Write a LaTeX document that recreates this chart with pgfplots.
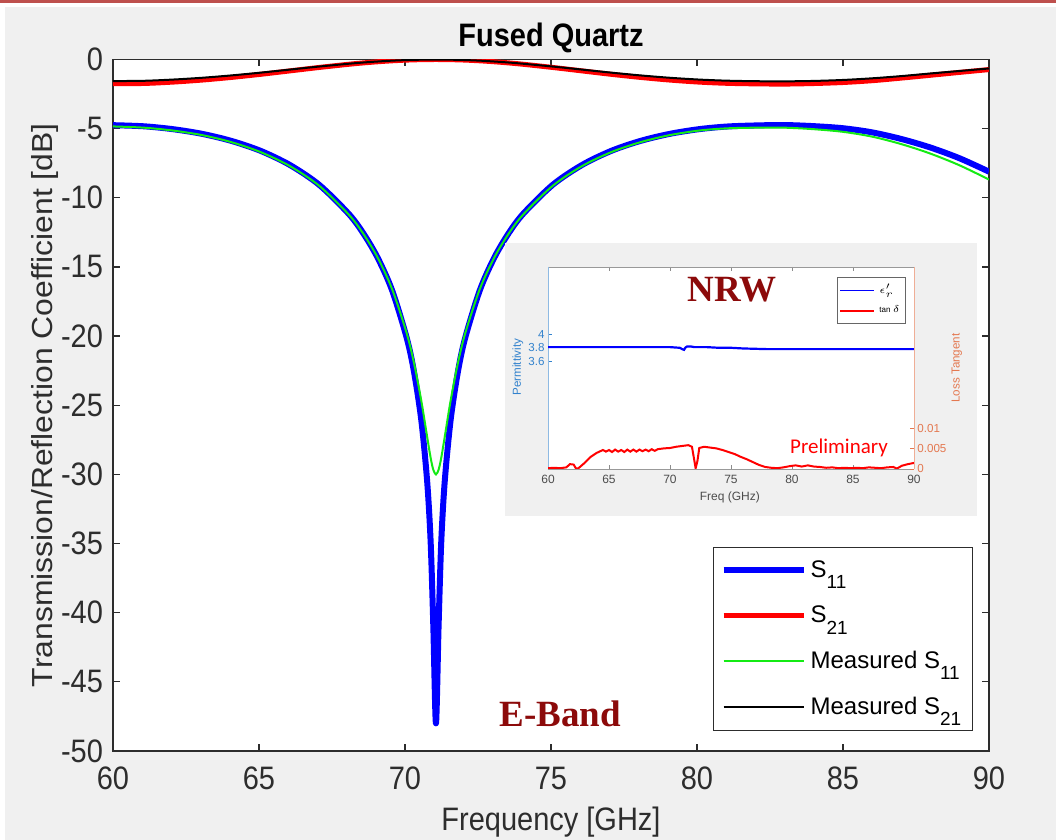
\documentclass[border=0pt]{standalone}
\usepackage{graphicx}
\usepackage{pgfplots}
\pgfplotsset{compat=1.18}
\usepackage{fontspec}
\setmainfont{Liberation Sans}
\newfontfamily\serifbf{Liberation Serif}
\newfontfamily\carlito{Carlito}
\definecolor{figgray}{RGB}{240,240,240}
\definecolor{borderred}{RGB}{190,80,77}
\definecolor{darkred}{RGB}{140,10,10}
\definecolor{mblue}{RGB}{50,130,205}
\definecolor{morange}{RGB}{228,120,80}
\definecolor{sgreen}{RGB}{20,235,20}
\definecolor{axgray}{RGB}{45,45,45}
\newcommand{\vs}[1]{\scalebox{1}[1.12]{#1}}
\newcommand{\sub}[1]{\raisebox{-5.8pt}{\fontsize{9.5}{10}\selectfont #1}}

\begin{document}
\begin{tikzpicture}
\path[use as bounding box] (-56.5pt,-44.5pt) rectangle (471.5pt,375.5pt);
\fill[white] (-56.5pt,-44.5pt) rectangle (471.5pt,375.5pt);
\fill[figgray] (-54pt,-44.5pt) rectangle (471.5pt,372pt);
\fill[borderred] (-56.5pt,374pt) rectangle (471.5pt,375.5pt);

\begin{axis}[
  name=main, at={(0,0)}, anchor=south west,
  width=438pt, height=345.75pt, scale only axis,
  xmin=60, xmax=90, ymin=-50, ymax=0,
  xtick={60,65,...,90}, ytick={-50,-45,...,0},
  tick align=inside, xtick pos=both, ytick pos=both,
  major tick length=3.5pt,
  axis line style={axgray, line width=0.6pt},
  tick style={axgray, line width=0.6pt},
  axis background/.style={fill=white},
  /pgf/number format/assume math mode=true,
  ticklabel style={font=\fontsize{14.5}{16}\selectfont, text=axgray},
  xticklabel={\vs{\pgfmathprintnumber{\tick}}},
  yticklabel={\vs{\pgfmathprintnumber{\tick}}},
  xticklabel style={yshift=-4.5pt},
  yticklabel style={xshift=-1.5pt},
  xlabel={\vs{Frequency [GHz]}},
  xlabel style={font=\fontsize{14.5}{16}\selectfont, text=axgray, at={(axis description cs:0.5,-0.1027)}, anchor=center},
  ylabel={\scalebox{1.1}[1]{Transmission/Reflection Coefficient [dB]}},
  ylabel style={font=\fontsize{14.5}{16}\selectfont, text=axgray, at={(axis description cs:-0.0776,0.5)}, anchor=center},
  legend style={at={(axis description cs:0.685,0.295)}, anchor=north west, draw=axgray, line width=0.6pt, fill=white,
    font=\fontsize{12}{14}\selectfont, row sep=8.7pt, inner xsep=3.5pt, inner ysep=4.5pt},
  legend cell align=left,
  legend image code/.code={\draw[#1] (0pt,0pt) -- (40pt,0pt);},
]
\addplot[blue, line width=3pt, line join=round, smooth, tension=0.5] coordinates {
(60,-4.75) (61.06,-4.83) (62.06,-5.04) (63.06,-5.38) (64.06,-5.89) (65.06,-6.61) (66.06,-7.63)
(67.06,-9.06) (68.06,-11.13) (68.56,-12.53) (69.06,-14.32) (69.56,-16.70) (70.06,-20.14)
(70.31,-22.60) (70.56,-26.11) (70.76,-30.53) (70.88,-34.96) (70.97,-40.98) (71.06,-48.0)
(71.15,-40.98) (71.24,-34.96) (71.36,-30.53) (71.56,-26.11) (71.81,-22.60) (72.06,-20.14)
(72.56,-16.70) (73.06,-14.32) (73.56,-12.53) (74.06,-11.13) (75.06,-9.06) (76.06,-7.63)
(77.06,-6.61) (78.06,-5.89) (79.06,-5.38) (80.06,-5.04) (81,-4.85) (82,-4.77) (83,-4.74)
(84,-4.82) (85,-4.97) (86,-5.27) (87,-5.75) (88,-6.37) (89,-7.15) (90,-8.11)};
\addlegendentry{S\sub{11}}
\addplot[red, line width=2.5pt, line join=round, smooth, tension=0.5] coordinates {
(60,-1.75) (61.06,-1.732) (62.06,-1.632) (63.06,-1.485) (64.06,-1.294) (65.06,-1.070) (66.06,-0.823)
(67.06,-0.576) (68.06,-0.348) (68.56,-0.249) (69.06,-0.164) (69.56,-0.094) (70.06,-0.042)
(70.56,-0.011) (71.06,0) (71.56,-0.011) (72.06,-0.042) (72.56,-0.094) (73.06,-0.164) (73.56,-0.249)
(74.06,-0.348) (75.06,-0.576) (76.06,-0.823) (77.06,-1.070) (78.06,-1.294) (79.06,-1.485)
(80.06,-1.632) (81,-1.72) (82,-1.761) (83,-1.776) (84,-1.737) (85,-1.663) (86,-1.532) (87,-1.343)
(88,-1.139) (89,-0.930) (90,-0.729)};
\addlegendentry{S\sub{21}}
\addplot[sgreen, line width=1pt, smooth, tension=0.5] coordinates {
(60,-4.84) (61.06,-4.93) (62.06,-5.14) (63.06,-5.47) (64.06,-5.98) (65.06,-6.70) (66.06,-7.71)
(67.06,-9.13) (68.06,-11.18) (68.56,-12.56) (69.06,-14.31) (69.56,-16.61) (70.06,-19.81)
(70.31,-21.97) (70.56,-24.70) (70.76,-27.30) (70.88,-28.82) (70.97,-29.67) (71.06,-30.0)
(71.15,-29.67) (71.24,-28.82) (71.36,-27.30) (71.56,-24.70) (71.81,-21.97) (72.06,-19.81)
(72.56,-16.61) (73.06,-14.31) (73.56,-12.56) (74.06,-11.18) (75.06,-9.13) (76.06,-7.71)
(77.06,-6.70) (78.06,-5.98) (79.06,-5.47) (80.06,-5.14) (81,-4.98) (82,-4.93) (83,-4.93)
(84,-5.04) (85,-5.23) (86,-5.58) (87,-6.12) (88,-6.81) (89,-7.66) (90,-8.68)};
\addlegendentry{Measured S\sub{11}}
\addplot[black, line width=1pt, smooth, tension=0.5] coordinates {
(60,-1.56) (61.06,-1.54) (62.06,-1.45) (63.06,-1.32) (64.06,-1.15) (65.06,-0.95) (66.06,-0.73)
(67.06,-0.51) (68.06,-0.31) (68.56,-0.22) (69.06,-0.146) (69.56,-0.084) (70.06,-0.04) (70.56,-0.015)
(71.06,-0.01) (71.56,-0.015) (72.06,-0.04) (72.56,-0.084) (73.06,-0.146) (73.56,-0.22) (74.06,-0.31)
(75.06,-0.51) (76.06,-0.73) (77.06,-0.95) (78.06,-1.15) (79.06,-1.32) (80.06,-1.45) (81,-1.53)
(82,-1.57) (83,-1.58) (84,-1.55) (85,-1.48) (86,-1.36) (87,-1.20) (88,-1.01) (89,-0.83) (90,-0.65)};
\addlegendentry{Measured S\sub{21}}
\end{axis}

\node[font=\bfseries\fontsize{14.5}{16}\selectfont, text=black] at (219pt,356.5pt) {\vs{Fused Quartz}};

\fill[figgray] (196pt,117.5pt) rectangle (432pt,254pt);

\begin{axis}[
  at={(217.5pt,141pt)}, anchor=south west,
  width=183pt, height=101pt, scale only axis,
  xmin=60, xmax=90, ymin=2, ymax=5,
  axis y line*=left,
  xtick={60,65,...,90}, ytick={3.6,3.8,4}, yticklabels={3.6,3.8,4},
  tick align=inside, xtick pos=both,
  major tick length=2pt,
  x axis line style={black!40, line width=0.4pt},
  y axis line style={mblue!55, line width=0.4pt},
  xtick style={black!45, line width=0.4pt}, ytick style={mblue, line width=0.4pt},
  /pgf/number format/assume math mode=true,
  xticklabel style={font=\fontsize{6}{6.5}\selectfont, text=black!70, inner sep=1.5pt, yshift=-1.5pt},
  yticklabel style={font=\fontsize{5.8}{6.5}\selectfont, text=mblue, inner sep=1.5pt},
  xlabel={Freq (GHz)},
  xlabel style={font=\fontsize{6}{7}\selectfont, text=black!70, at={(axis description cs:0.497,-0.139)}, anchor=center},
  ylabel={Permittivity},
  ylabel style={font=\fontsize{5.8}{6.5}\selectfont, text=mblue, at={(axis description cs:-0.082,0.505)}, anchor=center},
  axis background/.style={fill=white},
]
\addplot[blue, line width=1.1pt] coordinates {
(60,3.81) (62,3.81) (64,3.81) (66,3.81) (68,3.81) (70,3.81) (70.8,3.80) (71.0,3.78) (71.15,3.77)
(71.25,3.80) (71.4,3.82) (71.7,3.82) (72,3.81) (73,3.81) (74,3.80) (75,3.80) (76,3.79) (77,3.785)
(78,3.78) (80,3.78) (82,3.78) (84,3.78) (86,3.78) (88,3.78) (90,3.78)};
\end{axis}

\begin{axis}[
  at={(217.5pt,141pt)}, anchor=south west,
  width=183pt, height=101pt, scale only axis,
  xmin=60, xmax=90, ymin=0, ymax=0.05,
  axis y line*=right, axis x line=none,
  scaled y ticks=false,
  ytick={0,0.005,0.01}, yticklabels={0,0.005,0.01},
  tick align=inside, major tick length=2pt,
  y axis line style={morange!60, line width=0.4pt},
  ytick style={morange, line width=0.4pt},
  yticklabel style={font=\fontsize{5.8}{6.5}\selectfont, text=morange, inner sep=1.5pt},
  ylabel={Loss Tangent},
  ylabel style={font=\fontsize{5.8}{6.5}\selectfont, text=morange, at={(axis description cs:1.117,0.5)}, anchor=center, rotate=0},
  legend style={at={(axis description cs:0.79,0.95)}, anchor=north west, draw=black!60, line width=0.3pt, fill=white,
    font=\fontsize{4}{4.5}\selectfont, row sep=0.5pt, inner xsep=1pt, inner ysep=1.5pt},
  legend cell align=left,
  legend image code/.code={\draw[#1] (0pt,0pt) -- (17pt,0pt);},
]
\addlegendimage{blue, line width=0.8pt}
\addlegendentry{$\epsilon_r'$}
\addplot[red, line width=1pt] coordinates {
(60,0.0002) (60.5,0.0003) (61,0.0002) (61.5,0.0004) (61.8,0.0012) (62.1,0.0011) (62.3,0.0001)
(62.5,0.0002) (63,0.0015) (63.5,0.0030) (64,0.0040) (64.5,0.0047) (64.75,0.0043) (65,0.0047)
(65.25,0.0042) (65.5,0.0048) (65.75,0.0043) (66,0.0047) (66.25,0.0042) (66.5,0.0048) (66.75,0.0043)
(67,0.0048) (67.25,0.0043) (67.5,0.0048) (67.75,0.0044) (68,0.0048) (68.25,0.0044) (68.5,0.0049)
(68.75,0.0045) (69,0.0049) (69.5,0.0051) (70,0.0052) (70.5,0.0055) (71,0.0057) (71.5,0.0059)
(71.8,0.0055) (72,0.0020) (72.1,0.0002) (72.25,0.0020) (72.4,0.0052) (72.8,0.0055) (73.3,0.0053)
(73.8,0.0051) (74.3,0.0047) (74.8,0.0042) (75.3,0.0037) (75.8,0.0030) (76.3,0.0024) (76.8,0.0017)
(77.3,0.0010) (77.8,0.0005) (78.3,0.0003) (78.8,0.0002) (79.3,0.0004) (79.8,0.0007) (80.3,0.0009)
(80.8,0.0006) (81.3,0.0009) (81.8,0.0006) (82.3,0.0005) (82.8,0.0003) (83.3,0.0004) (83.8,0.0002)
(84.3,0.0003) (84.8,0.0002) (85.3,0.0003) (85.8,0.0002) (86.3,0.0004) (86.8,0.0003) (87.3,0.0002)
(87.8,0.0004) (88.3,0.0005) (88.6,0.0001) (89,0.0008) (89.5,0.0012) (90,0.0015)};
\addlegendentry{tan $\delta$}
\end{axis}

\node[font=\serifbf\bfseries\fontsize{18.5}{20}\selectfont, text=darkred] at (309.5pt,230.5pt) {NRW};
\node[font=\serifbf\bfseries\fontsize{18.5}{20}\selectfont, text=darkred] at (223.5pt,18.5pt) {E-Band};
\node[font=\carlito\fontsize{10.5}{12}\selectfont, text=red] at (363pt,151.5pt) {Preliminary};
\end{tikzpicture}
\end{document}
